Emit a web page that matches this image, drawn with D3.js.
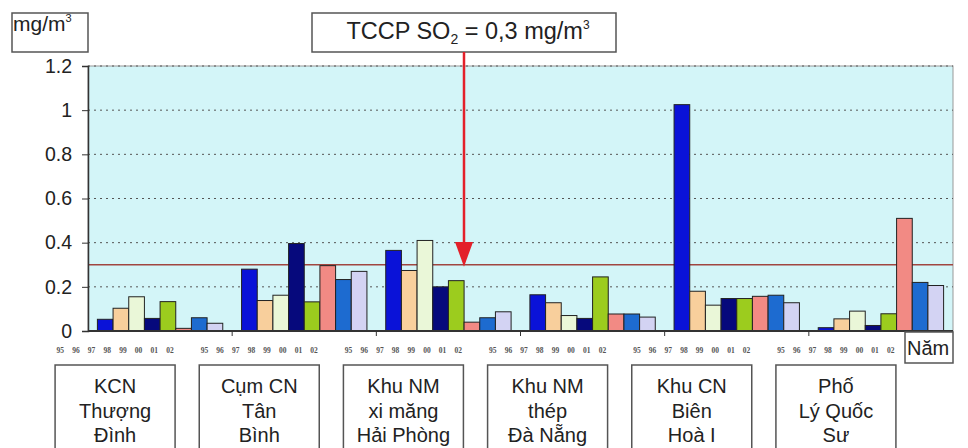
<!DOCTYPE html>
<html>
<head>
<meta charset="utf-8">
<script src="https://cdn.jsdelivr.net/npm/d3@7"></script>
<style>
body { margin: 0; background: #fff; }
text { font-family: "Liberation Sans", Arial, sans-serif; fill: #222; }
</style>
</head>
<body>
<div id="chart"></div>
<script>
// sites (categories) and their label lines
var sites = ["KCN Thượng Đình", "Cụm CN Tân Bình", "Khu NM xi măng Hải Phòng",
             "Khu NM thép Đà Nẵng", "Khu CN Biên Hoà I", "Phố Lý Quốc Sư"]
var siteLines = [["KCN", "Thượng", "Đình"], ["Cụm CN", "Tân", "Bình"],
                 ["Khu NM", "xi măng", "Hải Phòng"], ["Khu NM", "thép", "Đà Nẵng"],
                 ["Khu CN", "Biên", "Hoà I"], ["Phố", "Lý Quốc", "Sư"]]
var years = ["95", "96", "97", "98", "99", "00", "01", "02"]

// SO2 mg/m3, one array per year, values per site
var v95 = [0.053, 0.28, 0.365, 0.164, 1.025, 0.015]
var v96 = [0.103, 0.138, 0.274, 0.128, 0.18, 0.055]
var v97 = [0.155, 0.162, 0.41, 0.07, 0.117, 0.09]
var v98 = [0.057, 0.396, 0.2, 0.057, 0.147, 0.025]
var v99 = [0.133, 0.132, 0.228, 0.245, 0.147, 0.078]
var v00 = [0.012, 0.296, 0.04, 0.077, 0.157, 0.51]
var v01 = [0.06, 0.233, 0.06, 0.077, 0.162, 0.22]
var v02 = [0.035, 0.27, 0.087, 0.063, 0.128, 0.206]
var series = [v95, v96, v97, v98, v99, v00, v01, v02]

var yTicks = [0, 0.2, 0.4, 0.6, 0.8, 1, 1.2]
var yTickLabels = ["0", "0.2", "0.4", "0.6", "0.8", "1", "1.2"]
var limit = 0.3

var colors = ["#0a12d8", "#f8cf9c", "#eaf7d8", "#06097c", "#9ccc1e", "#f28a84", "#1d6bd0", "#d3d3f3"]

var width = 968, height = 448
var plotL = 88, plotR = 953, plotT = 66, plotB = 331

var svg = d3.select("#chart").append("svg")
    .attr("width", width)
    .attr("height", height)

var x0 = d3.scaleBand().domain(sites).range([plotL, plotR])
var x1 = d3.scaleBand().domain(years).range([0, x0.bandwidth()]).paddingOuter(0.6)
var y = d3.scaleLinear().domain([0, 1.2]).range([plotB, plotT])

// plot background
svg.append("rect")
    .attr("x", plotL).attr("y", plotT)
    .attr("width", plotR - plotL).attr("height", plotB - plotT)
    .attr("fill", "#d3f5f8")
    .attr("stroke", "#999")

// dotted grid
svg.append("g")
    .selectAll("line")
    .data(yTicks.slice(1))
    .enter().append("line")
    .attr("x1", plotL).attr("x2", plotR)
    .attr("y1", d => y(d)).attr("y2", d => y(d))
    .attr("stroke", "#555")
    .attr("stroke-dasharray", "2,4")

// limit line
svg.append("line")
    .attr("x1", plotL).attr("x2", plotR)
    .attr("y1", y(limit)).attr("y2", y(limit))
    .attr("stroke", "#a04640")
    .attr("stroke-width", 1.5)

// bars
var groups = svg.append("g")
    .selectAll("g")
    .data(sites)
    .enter().append("g")
    .attr("transform", d => "translate(" + x0(d) + ",0)")

groups.selectAll("rect")
    .data((d, i) => years.map((yr, j) => ({ year: yr, j: j, value: series[j][i] })))
    .enter().append("rect")
    .attr("x", d => x1(d.year))
    .attr("width", x1.bandwidth())
    .attr("y", d => y(d.value))
    .attr("height", d => y(0) - y(d.value))
    .attr("fill", d => colors[d.j])
    .attr("stroke", "#222")
    .attr("stroke-width", 1)

// y axis
var yAxis = d3.axisLeft(y)
    .tickValues(yTicks)
    .tickFormat((d, i) => yTickLabels[i])
    .tickSize(6)
    .tickPadding(10)
var gy = svg.append("g")
    .attr("transform", "translate(" + plotL + ",0)")
    .call(yAxis)
gy.select(".domain").attr("stroke", "#333").attr("stroke-width", 1.5)
gy.selectAll(".tick line").attr("stroke", "#333")
gy.selectAll(".tick text")
    .attr("font-size", 19.5)
    .attr("font-family", "Liberation Sans, Arial, sans-serif")
    .attr("fill", "#222")

// x axis baseline and category ticks
svg.append("line")
    .attr("x1", plotL).attr("x2", plotR)
    .attr("y1", plotB).attr("y2", plotB)
    .attr("stroke", "#333")
    .attr("stroke-width", 2)

svg.append("g")
    .selectAll("line")
    .data(sites.slice(1))
    .enter().append("line")
    .attr("x1", d => x0(d)).attr("x2", d => x0(d))
    .attr("y1", plotB).attr("y2", plotB + 5)
    .attr("stroke", "#333")

// tiny year labels, shifted left of their bars as in the source
var shift = -45
groups.selectAll("text.yr")
    .data(years)
    .enter().append("text")
    .attr("class", "yr")
    .attr("x", d => x1(d) + x1.bandwidth() / 2 + shift)
    .attr("y", 353)
    .attr("text-anchor", "middle")
    .attr("font-size", 7.5)
    .attr("font-weight", "bold")
    .style("font-family", "Liberation Serif, serif")
    .style("fill", "#555")
    .text(d => d)

// site boxes
var boxW = 120
var boxes = svg.append("g")
    .selectAll("g")
    .data(sites)
    .enter().append("g")
    .attr("transform", d => "translate(" + (x0(d) + x0.bandwidth() / 2 + shift) + ",0)")

boxes.append("rect")
    .attr("x", -boxW / 2).attr("y", 365)
    .attr("width", boxW).attr("height", 100)
    .attr("fill", "#fff")
    .attr("stroke", "#555")
    .attr("stroke-width", 1.5)

boxes.selectAll("text")
    .data((d, i) => siteLines[i])
    .enter().append("text")
    .attr("x", 0)
    .attr("y", (d, i) => 393 + i * 24.5)
    .attr("text-anchor", "middle")
    .attr("font-size", 20)
    .text(d => d)

// "Năm" box
svg.append("rect")
    .attr("x", 905).attr("y", 332)
    .attr("width", 48).attr("height", 31)
    .attr("fill", "#fff")
    .attr("stroke", "#555")
    .attr("stroke-width", 1.5)
svg.append("text")
    .attr("x", 907).attr("y", 355)
    .attr("font-size", 20)
    .text("Năm")

// unit box
svg.append("rect")
    .attr("x", 12).attr("y", 13)
    .attr("width", 76).attr("height", 39)
    .attr("fill", "#fff")
    .attr("stroke", "#555")
    .attr("stroke-width", 1.5)
var unit = svg.append("text")
    .attr("x", 13).attr("y", 31)
    .attr("font-size", 21)
unit.append("tspan").text("mg/m")
unit.append("tspan").attr("font-size", 11).attr("dy", -9).text("3")

// limit annotation
var ax = 464
svg.append("rect")
    .attr("x", 312).attr("y", 13)
    .attr("width", 304).attr("height", 39)
    .attr("fill", "#fff")
    .attr("stroke", "#555")
    .attr("stroke-width", 1.5)
var note = svg.append("text")
    .attr("x", ax + 4).attr("y", 39)
    .attr("text-anchor", "middle")
    .attr("font-size", 23.5)
note.append("tspan").text("TCCP SO")
note.append("tspan").attr("font-size", 14).attr("dy", 5).text("2")
note.append("tspan").attr("dy", -5).text(" = 0,3 mg/m")
note.append("tspan").attr("font-size", 12).attr("dy", -10).text("3")

svg.append("line")
    .attr("x1", ax).attr("x2", ax)
    .attr("y1", 52).attr("y2", 244)
    .attr("stroke", "#e3202a")
    .attr("stroke-width", 2.5)
svg.append("path")
    .attr("d", d3.line()([[ax - 9, 242], [ax + 9, 242], [ax, y(limit) + 2]]))
    .attr("fill", "#e3202a")
</script>
</body>
</html>
